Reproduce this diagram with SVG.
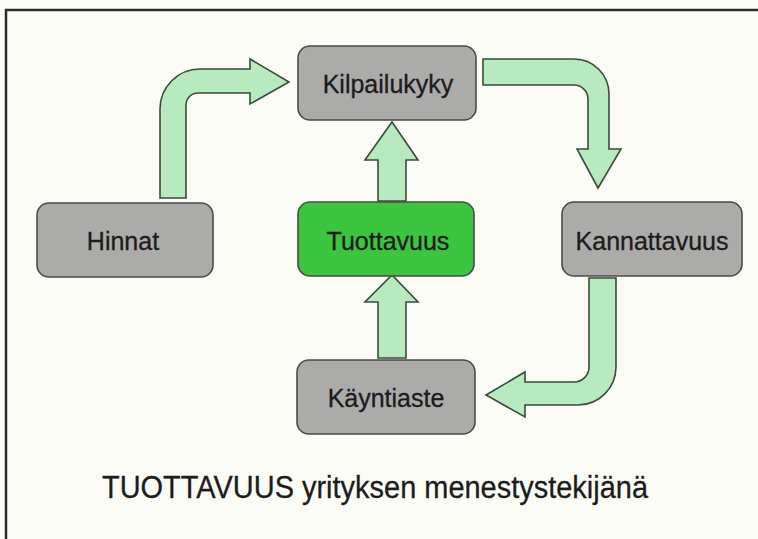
<svg xmlns="http://www.w3.org/2000/svg" width="758" height="539" viewBox="0 0 758 539">
<style>
.box{fill:#ababa9;stroke:#4a4a48;stroke-width:1.6}
.green{fill:#3cc63f}
.lbl{font-family:"Liberation Sans",Arial,sans-serif;font-size:25px;fill:#1c1c1c;stroke:#1c1c1c;stroke-width:0.3;text-anchor:middle}
.arr{fill:#b7eabf;stroke:#3c4a3e;stroke-width:1.6;stroke-linejoin:miter}
</style>
<rect width="758" height="539" fill="#fbfbf6"/>
<path d="M6,539 V10 H758" fill="none" stroke="#2e2e2e" stroke-width="2.5"/>
<g id="connectors">
<path class="arr" d="M160,198 V109 A40,40 0 0 1 200,69 H250 V59 L289,82 L250,104 V93 H198 A12,12 0 0 0 186,105 V198 Z"/>
<path class="arr" d="M483,59 H574 A35,35 0 0 1 609,94 V149 H621 L598,188 L577,149 H588 V99 A14,14 0 0 0 574,85 H483 Z"/>
<path class="arr" d="M589,278 H616 V367 A38,38 0 0 1 578,405 H525 V417 L486,395 L525,372 V382 H574 A15,15 0 0 0 589,367 Z"/>
<path class="arr" d="M378,358 V302 H365 L392,275 L418,302 H406 V358 Z"/>
<path class="arr" d="M378,201 V160 H365 L392,122 L418,160 H406 V201 Z"/>
</g>
<g id="kilpailukyky"><rect class="box" x="298" y="46" width="178" height="74" rx="12"/><text class="lbl" x="388" y="93">Kilpailukyky</text></g>
<g id="hinnat"><rect class="box" x="37" y="203" width="176" height="74" rx="12"/><text class="lbl" x="123" y="250">Hinnat</text></g>
<g id="tuottavuus"><rect class="box green" x="298" y="202" width="176" height="74" rx="12"/><text class="lbl" x="388" y="250">Tuottavuus</text></g>
<g id="kannattavuus"><rect class="box" x="562" y="202" width="180" height="74" rx="12"/><text class="lbl" x="652" y="250">Kannattavuus</text></g>
<g id="kayntiaste"><rect class="box" x="297" y="360" width="178" height="74" rx="12"/><text class="lbl" x="386" y="407">Käyntiaste</text></g>
<text x="102" y="498" font-family="Liberation Sans, Arial, sans-serif" font-size="31" fill="#1c1c1c" stroke="#1c1c1c" stroke-width="0.3" textLength="546" lengthAdjust="spacingAndGlyphs">TUOTTAVUUS yrityksen menestystekijänä</text>
</svg>
